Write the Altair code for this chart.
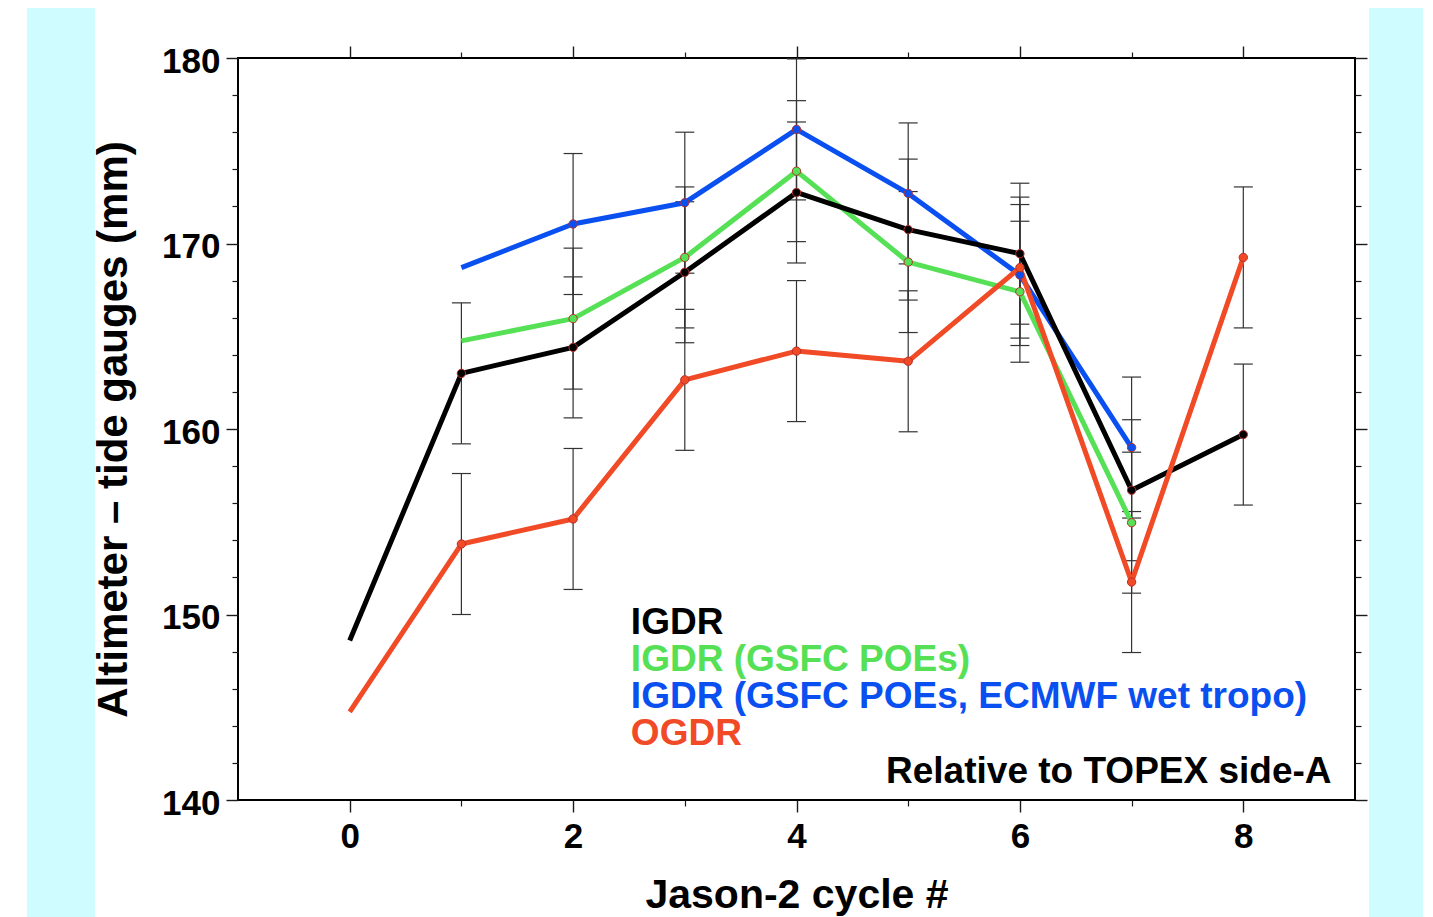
import altair as alt
import pandas as pd

# ---------------- data ----------------
cycles = [0, 1, 2, 3, 4, 5, 6, 7, 8]
igdr = [148.6, 163.0, 164.4, 168.45, 172.75, 170.75, 169.45, 156.7, 159.7]
igdr_gsfc = [None, 164.75, 165.95, 169.25, 173.9, 169.0, 167.4, 154.95, None]
igdr_ecmwf = [None, 168.7, 171.05, 172.2, 176.15, 172.7, 168.3, 159.0, None]
ogdr = [144.75, 153.8, 155.15, 162.65, 164.2, 163.65, 168.7, 151.75, 169.25]

igdr_err = [None, 3.8, 3.8, 3.8, 3.8, 3.8, 3.8, 3.8, 3.8]
gsfc_err = [None, None, 3.8, 3.8, 3.8, 3.8, 3.8, 3.8, None]
ecmwf_err = [None, None, 3.8, 3.8, 3.8, 3.8, 3.8, 3.8, None]
ogdr_err = [None, 3.8, 3.8, 3.8, 3.8, 3.8, 3.8, 3.8, 3.8]

series_names = ["IGDR", "IGDR (GSFC POEs)", "IGDR (GSFC POEs, ECMWF wet tropo)", "OGDR"]
series_colors = ["#000000", "#55e055", "#0a4ff0", "#f04a26"]
series_values = [igdr, igdr_gsfc, igdr_ecmwf, ogdr]
series_errs = [igdr_err, gsfc_err, ecmwf_err, ogdr_err]
draw_order = [1, 2, 0, 3]

x_major = [0, 2, 4, 6, 8]
x_minor = [1, 3, 5, 7]
y_major = [140, 150, 160, 170, 180]
y_minor = [142, 144, 146, 148, 152, 154, 156, 158, 162, 164, 166, 168,
           172, 174, 176, 178]

note_text = "Relative to TOPEX side-A"
x_title = "Jason-2 cycle #"
y_title = "Altimeter \u2013 tide gauges (mm)"

# ---------------- tables ----------------
rows = []
for name, color, vals, errs in zip(series_names, series_colors, series_values, series_errs):
    for c, v, e in zip(cycles, vals, errs):
        if v is None:
            continue
        rows.append({"cycle": c, "value": v, "series": name, "color": color,
                     "err": e,
                     "lo": (v - e) if e is not None else None,
                     "hi": (v + e) if e is not None else None})
df = pd.DataFrame(rows)
df_err = df[df["err"].notna()].copy()

legend_df = pd.DataFrame({
    "label": series_names,
    "color": series_colors,
    "x": [2.517] * 4,
    "y": [148.95, 146.95, 144.95, 142.95],
})
note_df = pd.DataFrame({"label": [note_text], "x": [8.79], "y": [140.93]})

FONT = "Liberation Sans"
XS = alt.Scale(domain=[-1, 9], nice=False, zero=False)
YS = alt.Scale(domain=[140, 180], nice=False, zero=False)
TICK_COLOR = "#1a1a1a"


def X(field, axis=None):
    return alt.X(field, type="quantitative", scale=XS, axis=axis)


def Y(field, axis=None):
    return alt.Y(field, type="quantitative", scale=YS, axis=axis)


# ---------------- axes ----------------
ax_bottom = alt.Axis(orient="bottom", values=x_major, format="d", tickSize=12,
                     tickColor=TICK_COLOR, tickWidth=1.4, domain=False, grid=False,
                     labelFont=FONT, labelFontSize=35, labelFontWeight="bold",
                     labelColor="#000000", labelPadding=7, labelFlush=False,
                     title=x_title, titleFont=FONT, titleFontSize=41,
                     titleFontWeight="bold", titleColor="#000000",
                     titleX=558.5, titleY=107, titleBaseline="alphabetic",
                     titleAlign="center")
ax_left = alt.Axis(orient="left", values=y_major, format="d", tickSize=12,
                   tickColor=TICK_COLOR, tickWidth=1.4, domain=False, grid=False,
                   labelFont=FONT, labelFontSize=35, labelFontWeight="bold",
                   labelColor="#000000", labelPadding=6, labelOffset=3,
                   labelFlush=False,
                   title=y_title, titleFont=FONT, titleFontSize=42,
                   titleFontWeight="bold", titleColor="#000000",
                   titleX=-112, titleY=371, titleAngle=270,
                   titleBaseline="alphabetic", titleAlign="center")
ax_top = alt.Axis(orient="top", values=x_major, tickSize=12, tickColor=TICK_COLOR,
                  tickWidth=1.4, domain=False, grid=False, labels=False, title=None)
ax_right = alt.Axis(orient="right", values=y_major, tickSize=12, tickColor=TICK_COLOR,
                    tickWidth=1.4, domain=False, grid=False, labels=False, title=None)


def minor(orient, vals):
    return alt.Axis(orient=orient, values=vals, tickSize=6, tickColor=TICK_COLOR,
                    tickWidth=1.2, domain=False, grid=False, labels=False, title=None)


base = alt.Chart(df)
base_err = alt.Chart(df_err)

layers = []

# background stripes (page decoration)
stripe_data = alt.Data(values=[{"s": 1}])
layers.append(alt.Chart(stripe_data).mark_rect(color="#cffcff").encode(
    x=alt.value(-211), x2=alt.value(-143), y=alt.value(-50), y2=alt.value(860)))
layers.append(alt.Chart(stripe_data).mark_rect(color="#cffcff").encode(
    x=alt.value(1131), x2=alt.value(1185), y=alt.value(-50), y2=alt.value(860)))

# axis carrier layers (invisible points)
for axx, axy in [(ax_bottom, ax_left), (ax_top, ax_right),
                 (minor("bottom", x_minor), minor("left", y_minor)),
                 (minor("top", x_minor), minor("right", y_minor))]:
    layers.append(base.mark_point(opacity=0).encode(x=X("cycle", axx), y=Y("value", axy)))

# error bars
layers.append(base_err.mark_rule(color="#333333", strokeWidth=1.2).encode(
    x=X("cycle"), y=Y("lo"), y2="hi"))
for f in ["lo", "hi"]:
    layers.append(base_err.mark_tick(orient="horizontal", size=19, thickness=1.2,
                                     color="#333333", opacity=1).encode(
        x=X("cycle"), y=Y(f)))

# lines and markers
for i in draw_order:
    name, color = series_names[i], series_colors[i]
    sub = df[df["series"] == name]
    layers.append(alt.Chart(sub).mark_line(color=color, strokeWidth=5,
                                           strokeJoin="round").encode(
        x=X("cycle"), y=Y("value")))
for i in draw_order:
    name, color = series_names[i], series_colors[i]
    sub = df_err[df_err["series"] == name]
    layers.append(alt.Chart(sub).mark_circle(size=70, color=color, opacity=1,
                                             stroke="#b8302a", strokeWidth=1).encode(
        x=X("cycle"), y=Y("value")))

# annotations
layers.append(alt.Chart(legend_df).mark_text(align="left", baseline="alphabetic",
                                             font=FONT, fontSize=37,
                                             fontWeight="bold").encode(
    x=X("x"), y=Y("y"), text="label:N", color=alt.Color("color:N", scale=None)))
layers.append(alt.Chart(note_df).mark_text(align="right", baseline="alphabetic",
                                           font=FONT, fontSize=37, fontWeight="bold",
                                           color="#000000").encode(
    x=X("x"), y=Y("y"), text="label:N"))

chart = alt.layer(*layers).resolve_axis(x="independent", y="independent").properties(
    width=1117, height=742,
    padding={"left": 230, "top": 50, "right": 68, "bottom": 117},
    autosize=alt.AutoSizeParams(type="none"),
    background="#ffffff",
).configure_view(stroke="#000000", strokeWidth=2)

chart.save("out.html", embed_options={"renderer": "svg", "actions": False})
